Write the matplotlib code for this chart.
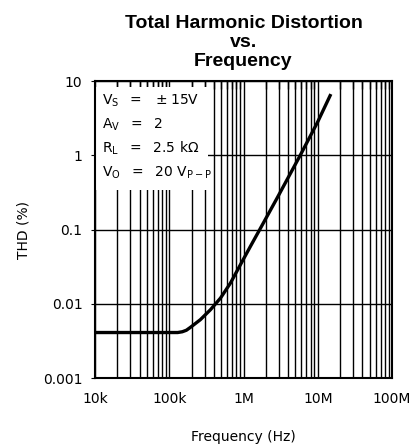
import numpy as np
import matplotlib
matplotlib.use('Agg')
import matplotlib.pyplot as plt
from matplotlib.patches import Rectangle
from matplotlib.ticker import LogLocator, NullFormatter

# values
freq_hz = [1e4, 1e5, 1.3e5, 1.5e5, 1.7e5, 1.92e5, 2.62e5, 3.58e5, 4.89e5, 6.67e5, 9.1e5,
           1.24e6, 1.7e6, 2.85e6, 5.9e6, 9.9e6, 1.5e7]
thd_pct = [0.0041, 0.0041, 0.0041, 0.0042, 0.0044, 0.0048, 0.0061, 0.0083, 0.0119, 0.019, 0.0337,
           0.0594, 0.105, 0.268, 1.03, 2.77, 6.67]

x_ticks = [1e4, 1e5, 1e6, 1e7, 1e8]
x_labels = ['10k', '100k', '1M', '10M', '100M']
y_ticks = [0.001, 0.01, 0.1, 1, 10]
y_labels = ['0.001', '0.01', '0.1', '1', '10']

conditions = [r'$\mathregular{V_S\ \ =\ \ \pm15V}$',
              r'$\mathregular{A_V\ \ =\ \ 2}$',
              r'$\mathregular{R_L\ \ =\ \ 2.5\ k\Omega}$',
              r'$\mathregular{V_O\ \ =\ \ 20\ V_{P-P}}$']

fig = plt.figure(figsize=(4.12, 4.44), dpi=100)
ax = fig.add_axes([0.2306, 0.1486, 0.7209, 0.6689])

ax.set_xscale('log')
ax.set_yscale('log')
ax.set_xlim(1e4, 1e8)
ax.set_ylim(0.001, 10)

ax.set_axisbelow(True)
ax.xaxis.set_minor_locator(LogLocator(base=10, subs=np.arange(2, 10)))
ax.xaxis.set_minor_formatter(NullFormatter())
ax.yaxis.set_minor_formatter(NullFormatter())
ax.yaxis.set_minor_locator(LogLocator(base=10, subs=[]))
ax.grid(True, which='major', color='black', linewidth=1.0)
ax.grid(True, which='minor', axis='x', color='black', linewidth=1.0)

ax.set_xticks(x_ticks)
ax.set_xticklabels(x_labels, fontsize=10)
ax.set_yticks(y_ticks)
ax.set_yticklabels(y_labels, fontsize=10)
ax.tick_params(axis='x', which='major', length=0, pad=10)
ax.tick_params(axis='y', which='major', direction='out', length=3, pad=6)
ax.tick_params(axis='x', which='minor', top=True, bottom=False, direction='in', length=6, width=1)

for s in ax.spines.values():
    s.set_linewidth(1.5)

# white panel behind the test conditions
ax.add_patch(Rectangle((0.003, 0.633), 0.377, 0.347, transform=ax.transAxes,
                       facecolor='white', edgecolor='none', zorder=1))

ax.plot(freq_hz, thd_pct, color='black', linewidth=2.4, solid_capstyle='butt', zorder=3)

y0 = 0.935
for i, t in enumerate(conditions):
    ax.text(0.025, y0 - i * 0.081, t, transform=ax.transAxes, fontsize=10,
            va='center', ha='left', zorder=4)

ax.set_xlabel('Frequency (Hz)', fontsize=10, va='center')
ax.xaxis.set_label_coords(0.5, -0.199)
ax.set_ylabel('THD (%)', fontsize=10, labelpad=9)

fig.text(0.591, 0.967, 'Total Harmonic Distortion\nvs.\nFrequency', ha='center', va='top',
         fontsize=14, fontweight='bold', family='Liberation Sans', linespacing=1.15)

fig.savefig('out.png', dpi=100)
